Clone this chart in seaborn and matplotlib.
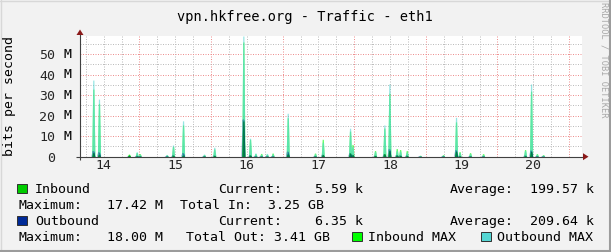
import matplotlib
matplotlib.use("Agg")
import matplotlib.pyplot as plt
from matplotlib.ticker import MultipleLocator
from matplotlib.transforms import blended_transform_factory
from matplotlib.patches import Rectangle, Polygon
import pandas as pd
import seaborn as sns

# ---------------- data (time in days of month, values in Mbit/s) ----------------
spike_day = [14.356, 14.435, 14.854, 14.962, 15.005, 15.381, 15.469, 15.609, 15.902,
             16.045, 16.451, 16.544, 16.620, 16.700, 16.780, 16.860, 17.071, 17.452,
             17.560, 17.941, 17.975, 18.290, 18.420, 18.490, 18.593, 18.640, 18.733,
             18.919, 19.240, 19.421, 19.470, 19.617, 19.799, 20.385, 20.469, 20.550,
             20.637]
in_max = [33.0, 26.0, 1.3, 2.0, 1.5, 0.9, 5.0, 15.5, 1.0,
          3.8, 56.0, 8.5, 1.5, 1.6, 1.2, 1.8, 19.0, 1.8,
          8.5, 12.5, 6.0, 3.0, 14.0, 31.0, 4.0, 3.5, 3.0,
          0.7, 1.0, 17.0, 2.5, 2.0, 1.5, 3.5, 32.0, 1.5,
          1.0]
out_max = [37.4, 28.1, 0.6, 2.4, 1.2, 1.1, 5.7, 17.5, 1.3,
           4.6, 58.9, 9.0, 1.8, 1.2, 1.6, 1.4, 21.2, 1.4,
           7.0, 13.9, 5.0, 2.5, 15.5, 35.5, 3.0, 2.8, 2.2,
           0.5, 0.8, 19.2, 2.0, 1.5, 1.0, 3.0, 35.5, 1.2,
           0.8]
in_avg = [2.0, 1.2, 0.9, 0.4, 0.3, 0.2, 0.7, 0.8, 0.3,
          0.6, 17.42, 0.8, 0.2, 0.2, 0.2, 0.2, 1.4, 0.3,
          1.0, 1.8, 1.0, 0.6, 1.5, 3.0, 0.8, 0.6, 0.5,
          0.1, 0.2, 2.6, 0.4, 0.3, 0.2, 0.5, 2.6, 0.2,
          0.1]
out_avg = [2.6, 2.0, 0.2, 0.3, 0.2, 0.2, 0.5, 1.6, 0.2,
           0.4, 18.0, 0.6, 0.2, 0.2, 0.2, 0.2, 2.3, 0.2,
           0.8, 1.5, 0.8, 0.3, 1.0, 3.5, 0.6, 0.5, 0.4,
           0.1, 0.2, 3.0, 0.3, 0.2, 0.2, 0.4, 2.8, 0.2,
           0.1]

x_start, x_end = 14.17, 21.18
y_top = 58.9
day_grid = [15, 16, 17, 18, 19, 20, 21]
day_label_pos = [14.5, 15.5, 16.5, 17.5, 18.5, 19.5, 20.5]
day_labels = ["14", "15", "16", "17", "18", "19", "20"]
y_ticks = [0, 10, 20, 30, 40, 50]
y_tick_labels = ["0", "10", "20", "30", "40", "50"]
y_unit = "M"

title = "vpn.hkfree.org - Traffic - eth1"
y_label = "bits per second"
watermark = "RRDTOOL / TOBI OETIKER"
series_names = ["Inbound", "Outbound", "Inbound MAX", "Outbound MAX"]
current_vals = ["5.59 k", "6.35 k"]
average_vals = ["199.57 k", "209.64 k"]
maximum_vals = ["17.42 M", "18.00 M"]
total_texts = ["Total In:  3.25 GB", "Total Out: 3.41 GB"]

C_IN = "#00CC00"
C_OUT = "#002A97"
C_IN_MAX = "#00FF00"
C_OUT_MAX = "#55D6D3"

# ---------------- figure ----------------
W, H, DPI = 611, 252, 100
sns.set_style("white")
plt.rcParams['font.family'] = ['DejaVu Sans Mono', 'DejaVu Sans']
plt.rcParams['text.color'] = '#000000'

fig = plt.figure(figsize=(W / DPI, H / DPI), dpi=DPI, facecolor="#F2F2F2")

def fx(px):
    return px / W

def fy(py):
    return 1 - py / H

AX_L, AX_R, AX_T, AX_B = 80, 582, 36, 156.7
ax = fig.add_axes([fx(AX_L), fy(AX_B), (AX_R - AX_L) / W, (AX_B - AX_T) / H])
ax.set_facecolor("white")
ax.set_xlim(x_start, x_end)
ax.set_ylim(0, y_top)
for s in ax.spines.values():
    s.set_visible(False)

PX = (x_end - x_start) / (AX_R - AX_L)

def shape(day, v):
    return ([day - 1.6 * PX, day - 0.6 * PX, day + 0.6 * PX, day + 1.6 * PX],
            [0, v, v, 0])

# areas
for d, v in zip(spike_day, in_max):
    xs, ys = shape(d, v)
    ax.fill_between(xs, 0, ys, color=C_IN_MAX, alpha=0.6, lw=0, zorder=2)
for d, v in zip(spike_day, out_max):
    xs, ys = shape(d, v)
    ax.fill_between(xs, 0, ys, color=C_OUT_MAX, alpha=0.62, lw=0, zorder=3)
for d, v in zip(spike_day, in_avg):
    xs, ys = shape(d, v)
    ax.fill_between(xs, 0, ys, color=C_IN, lw=0, zorder=4)
for d, v in zip(spike_day, out_avg):
    xs, ys = shape(d, v)
    ax.fill_between(xs, 0, ys, color=C_OUT, alpha=0.45, lw=0, zorder=5)

rows = []
for i, (d, v) in enumerate(zip(spike_day, out_avg)):
    xs, ys = shape(d, v)
    for a, b in zip(xs, ys):
        rows.append({"t": a, "v": b, "spike": i})
df_out = pd.DataFrame(rows)
sns.lineplot(data=df_out, x="t", y="v", units="spike", estimator=None, sort=False,
             color=C_OUT, lw=0.4, alpha=0.5, ax=ax, zorder=6, legend=False)
ax.set_xlabel("")
ax.set_ylabel("")

# grid
ax.set_xticks(day_grid)
ax.xaxis.set_minor_locator(MultipleLocator(0.25))
ax.set_yticks(y_ticks, labels=y_tick_labels)
ax.yaxis.set_minor_locator(MultipleLocator(5))
ax.set_axisbelow(True)
ax.grid(which="minor", color="#BDBDBD", ls=(0, (1, 1.5)), lw=0.72)
ax.grid(which="major", color="#EE9090", ls=(0, (1, 1.5)), lw=0.72)
ax.tick_params(which="both", direction="out", length=1.6, width=0.72, color="#A0A0A0")
ax.tick_params(axis="x", labelbottom=False)
ax.tick_params(axis="y", pad=16.3, labelsize=9.5)

# y units
yt = blended_transform_factory(ax.transAxes, ax.transData)
for v in y_ticks[1:]:
    ax.text((63.3 - AX_L) / (AX_R - AX_L), v, y_unit, transform=yt,
            ha="left", va="center", fontsize=9.5)

# day labels
sec = ax.secondary_xaxis("bottom")
sec.set_xticks(day_label_pos, labels=day_labels)
sec.tick_params(length=0, pad=2.0, labelsize=9.5)
for s in sec.spines.values():
    s.set_visible(False)

# axis lines and arrows
def ax_frac(px, py):
    return ((px - AX_L) / (AX_R - AX_L), (AX_B - py) / (AX_B - AX_T))

ax.plot(*zip(ax_frac(76, AX_B), ax_frac(584, AX_B)), transform=ax.transAxes,
        clip_on=False, color="#404040", lw=0.8, zorder=10, solid_capstyle="butt")
ax.plot(*zip(ax_frac(AX_L, 160), ax_frac(AX_L, 32)), transform=ax.transAxes,
        clip_on=False, color="#404040", lw=0.8, zorder=10, solid_capstyle="butt")
ax.add_patch(Polygon([ax_frac(583, 153.2), ax_frac(588.5, AX_B), ax_frac(583, 160.2)],
                     closed=True, transform=ax.transAxes, clip_on=False,
                     color="#8B1A1A", lw=0, zorder=11))
ax.add_patch(Polygon([ax_frac(76.5, 35), ax_frac(AX_L, 29.5), ax_frac(83.5, 35)],
                     closed=True, transform=ax.transAxes, clip_on=False,
                     color="#8B1A1A", lw=0, zorder=11))

# titles
fig.text(fx(305), fy(21.5), title, ha="center", va="baseline", fontsize=9.8)
fig.text(fx(10), fy(96), y_label, ha="center", va="center", rotation=90, fontsize=9.5)
fig.text(fx(604), fy(60), watermark, ha="center", va="center", rotation=270,
         fontsize=6.2, color="#A8A8A8")

# legend
FS = 9.5
base = [193.3, 209.3, 225.3, 241.3]

def sq(px, py_base, color):
    r = Rectangle((fx(px), fy(py_base - 0.5)), 10 / W, 9 / H, transform=fig.transFigure,
                  facecolor=color, edgecolor="#303030", lw=0.7)
    fig.patches.append(r)

def t(px, py, s):
    fig.text(fx(px), fy(py), s, ha="left", va="baseline", fontsize=FS)

for i in range(2):
    b1, b2 = base[2 * i], base[2 * i + 1]
    sq(17, b1, [C_IN, C_OUT][i])
    t(35, b1, series_names[i])
    t(218, b1, "Current:")
    t(315, b1, current_vals[i])
    t(450, b1, "Average:")
    t(530, b1, average_vals[i])
    t(18.3, b2, "Maximum:")
    t(106.7, b2, maximum_vals[i])
t(180, base[1], total_texts[0])
t(185.7, base[3], total_texts[1])
sq(352.3, base[3], C_IN_MAX)
t(368.3, base[3], series_names[2])
sq(481, base[3], C_OUT_MAX)
t(497, base[3], series_names[3])

# figure border
fig.lines.append(plt.Line2D([0, 1], [fy(0.5), fy(0.5)], transform=fig.transFigure, color="#D8D8D8", lw=1))
fig.lines.append(plt.Line2D([fx(0.5), fx(0.5)], [0, 1], transform=fig.transFigure, color="#D8D8D8", lw=1))
fig.lines.append(plt.Line2D([0, 1], [fy(251), fy(251)], transform=fig.transFigure, color="#9C9C9C", lw=1.5))
fig.lines.append(plt.Line2D([fx(610), fx(610)], [0, 1], transform=fig.transFigure, color="#9C9C9C", lw=1.5))

fig.savefig("out.png", dpi=DPI, facecolor=fig.get_facecolor())
